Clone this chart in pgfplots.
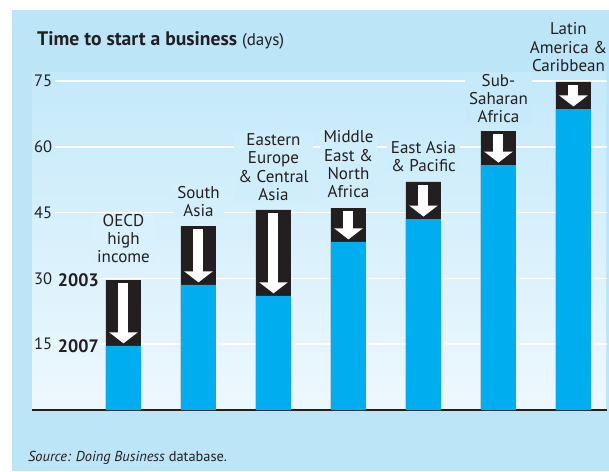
\documentclass[border=0pt]{standalone}
\usepackage{pgfplots}
\pgfplotsset{compat=1.18}
\usepackage{pgfplotstable}
\usepackage{fontspec}
\setmainfont{PT Sans}
\usetikzlibrary{arrows.meta}
\definecolor{outerblue}{HTML}{BCE5F8}
\definecolor{paneltop}{HTML}{C4E9FA}
\definecolor{panelbot}{HTML}{EEF8FE}
\definecolor{barblue}{HTML}{00ADEE}
\definecolor{barblack}{HTML}{231F20}
\definecolor{txt}{HTML}{231F20}
\tikzset{lab/.style={font=\fontsize{17}{18.3}\selectfont, text=txt, align=center, anchor=south, inner xsep=4pt, inner ysep=1pt}}

\pgfplotstableread{
x y03 y07
0 29.6 14.6
1 41.9 28.5
2 45.6 26.0
3 46.0 38.3
4 52.0 43.5
5 63.6 55.8
6 74.8 68.6
}\data

\begin{document}
\begin{tikzpicture}[x=1pt,y=1pt]
\fill[white] (0,0) rectangle (609,471);
\path[use as bounding box] (0,0) rectangle (609,471);
\fill[outerblue] (12,0) rectangle (609,461);
\shade[top color=paneltop,bottom color=panelbot] (32,61) rectangle (606,398);
\node[anchor=base west, font=\bfseries\fontsize{19.6}{22}\selectfont, text=txt, inner sep=0pt] at (37,425) {Time to start a business {\mdseries\fontsize{17}{19}\selectfont(days)}};
\node[anchor=base west, font=\fontsize{14.4}{18}\selectfont, text=txt, inner sep=0pt] at (28,10) {\itshape Source: Doing Business\upshape{} database.};
\begin{axis}[
  at={(32pt,61pt)}, anchor=south west,
  scale only axis, width=575pt, height=329pt,
  xmin=-1.22, xmax=6.447, ymin=0, ymax=75,
  clip=false,
  axis x line*=bottom, axis y line*=left,
  x axis line style={-, line width=2.2pt, draw=barblack},
  y axis line style={draw=none},
  xtick=\empty, ytick={15,30,45,60,75},
  major tick length=0pt, tick style={draw=none},
  /pgf/number format/assume math mode=true,
  yticklabel style={anchor=west, xshift=-1.5pt, font=\fontsize{16.5}{19}\selectfont, text=txt},
]
\foreach \g in {15,30,45,60,75} {
  \edef\tmp{\noexpand\draw[white, line width=1.5pt] (axis cs:-0.913,\g) -- (axis cs:6.447,\g);}
  \tmp
}
\addplot[ybar, bar width=35pt, bar shift=0pt, fill=barblack, draw=none] table[x=x, y=y03]{\data};
\addplot[ybar, bar width=35pt, bar shift=0pt, fill=barblue, draw=none] table[x=x, y=y07]{\data};
\addplot[white, line width=10pt, -{Triangle[width=28pt 0, length=11pt 0]},
  quiver={u=0, v=\thisrow{y07}-\thisrow{y03}+1.3}] table[x=x, y expr=\thisrow{y03}-0.7]{\data};

\node[lab, fill=panelbot!50!paneltop, yshift=16pt] at (axis cs:0,29.6) {OECD\\high\\income};
\node[lab, fill=panelbot!38!paneltop, yshift=8pt] at (axis cs:1,41.9) {South\\Asia};
\node[lab, fill=panelbot!28!paneltop, yshift=8pt] at (axis cs:2,45.6) {Eastern\\Europe\\\& Central\\Asia};
\node[lab, fill=panelbot!27!paneltop, yshift=9pt] at (axis cs:3,46.0) {Middle\\East \&\\North\\Africa};
\node[lab, fill=panelbot!25!paneltop, yshift=9pt] at (axis cs:4,52.0) {East Asia\\\& Pacific};
\node[lab, fill=panelbot!8!paneltop, yshift=7pt] at (axis cs:5,63.6) {Sub-\\Saharan\\Africa};
\node[lab, yshift=9pt, xshift=-5pt] at (axis cs:6,74.8) {Latin\\America \&\\Caribbean};

\node[anchor=east, font=\bfseries\fontsize{18}{20}\selectfont, text=txt, fill=panelbot!62!paneltop, inner sep=1pt, xshift=-23.5pt] at (axis cs:0,29.6) {2003};
\node[anchor=east, font=\bfseries\fontsize{18}{20}\selectfont, text=txt, fill=panelbot!81!paneltop, inner sep=1pt, xshift=-23.5pt] at (axis cs:0,14.6) {2007};
\end{axis}
\end{tikzpicture}
\end{document}
